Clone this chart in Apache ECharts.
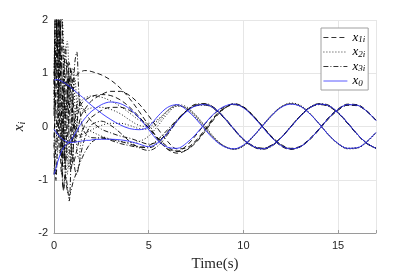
<!DOCTYPE html>
<html><head><meta charset="utf-8">
<script src="https://cdn.jsdelivr.net/npm/echarts@6/dist/echarts.min.js"></script>
<style>html,body{margin:0;padding:0;background:#fff}#c{width:415px;height:277px}</style>
</head><body><div id="c"></div>
<script>
// time grid (s)
const time = [0,0.1,0.2,0.3,0.4,0.5,0.6,0.7,0.8,0.9,1.0,1.1,1.2,1.3,1.4,1.5,1.6,1.7,1.8,1.9,2.0,
  2.5,3,3.5,4,4.5,5,5.5,6,6.5,7,7.5,8,8.5,9,9.5,10,10.5,11,11.5,12,12.5,13,13.5,14,14.5,15,15.5,16,16.5,17];

// leader x0 (three components)
const x0a = [0.87,0.88,0.88,0.87,0.85,0.83,0.81,0.78,0.76,0.73,0.70,0.67,0.64,0.61,0.58,0.55,0.52,0.48,0.45,0.42,0.39,
  0.25,0.13,0.03,-0.04,-0.06,0.00,0.20,0.36,0.41,0.31,0.14,-0.07,-0.26,-0.38,-0.42,-0.35,-0.19,0.01,0.21,0.36,0.42,0.38,0.24,0.05,-0.16,-0.32,-0.41,-0.40,-0.29,-0.11];
const x0b = [-0.90,-0.78,-0.66,-0.55,-0.46,-0.40,-0.35,-0.32,-0.30,-0.26,-0.20,-0.14,-0.08,-0.02,0.04,0.09,0.14,0.18,0.22,0.26,0.29,
  0.41,0.46,0.43,0.33,0.16,-0.06,-0.27,-0.39,-0.41,-0.31,-0.14,0.07,0.26,0.38,0.42,0.35,0.19,-0.01,-0.21,-0.36,-0.42,-0.38,-0.24,-0.05,0.16,0.32,0.41,0.40,0.29,0.11];
const x0c = [-0.05,-0.10,-0.15,-0.19,-0.22,-0.25,-0.27,-0.29,-0.30,-0.30,-0.30,-0.29,-0.29,-0.28,-0.28,-0.27,-0.27,-0.26,-0.26,-0.26,-0.25,
  -0.24,-0.24,-0.25,-0.28,-0.33,-0.38,-0.30,-0.12,0.10,0.28,0.39,0.41,0.33,0.16,-0.05,-0.24,-0.37,-0.42,-0.36,-0.21,-0.01,0.19,0.35,0.42,0.39,0.26,0.07,-0.14,-0.31,-0.41];

// followers, dashed (x1i)
const x11 = [0.30,1.40,2.40,1.60,0.20,-0.60,0.10,0.90,0.80,0.82,0.88,0.93,0.97,1.00,1.02,1.04,1.05,1.05,1.05,1.04,1.03,
  0.97,0.87,0.72,0.52,0.28,0.02,-0.24,-0.42,-0.46,-0.36,-0.16,0.06,0.25,0.37,0.42,0.36,0.20,0.00,-0.20,-0.35,-0.42,-0.38,-0.24,-0.05,0.16,0.32,0.41,0.40,0.29,0.12];
const x12 = [-0.20,0.60,1.70,2.30,1.20,0.00,-0.70,-0.30,0.70,1.10,0.60,0.00,-0.20,0.00,0.18,0.25,0.31,0.36,0.41,0.45,0.49,
  0.60,0.66,0.66,0.58,0.42,0.20,-0.05,-0.28,-0.42,-0.40,-0.26,-0.04,0.20,0.35,0.42,0.36,0.20,0.01,-0.20,-0.36,-0.42,-0.38,-0.25,-0.06,0.15,0.31,0.40,0.39,0.29,0.12];
const x13 = [0.80,2.20,1.30,0.00,-0.90,-0.20,0.80,1.20,0.50,-0.30,-0.70,-0.60,-0.45,-0.30,-0.18,-0.08,0.00,0.06,0.11,0.15,0.18,
  0.30,0.36,0.36,0.30,0.16,-0.02,-0.22,-0.38,-0.47,-0.44,-0.30,-0.08,0.16,0.34,0.43,0.37,0.21,0.00,-0.21,-0.37,-0.43,-0.38,-0.24,-0.04,0.17,0.33,0.42,0.41,0.30,0.12];
const x14 = [-0.50,-1.00,0.20,1.50,2.10,1.00,0.20,0.60,1.20,0.90,0.20,-0.30,0.00,0.30,0.40,0.45,0.48,0.51,0.53,0.55,0.57,
  0.60,0.58,0.50,0.36,0.18,-0.03,-0.25,-0.43,-0.50,-0.44,-0.28,-0.06,0.18,0.34,0.41,0.36,0.21,0.00,-0.19,-0.34,-0.41,-0.37,-0.23,-0.05,0.15,0.31,0.40,0.40,0.29,0.11];

// dotted (x2i)
const x21 = [0.50,1.80,2.50,1.20,-0.20,-0.80,-0.20,0.60,1.00,0.60,0.10,-0.30,0.10,0.60,0.45,0.30,0.28,0.31,0.33,0.34,0.35,
  0.36,0.32,0.24,0.12,0.02,0.00,0.12,0.30,0.40,0.34,0.18,-0.04,-0.24,-0.37,-0.42,-0.36,-0.20,0.00,0.20,0.36,0.43,0.39,0.25,0.05,-0.16,-0.33,-0.42,-0.41,-0.30,-0.12];
const x22 = [-0.30,-0.90,-0.40,0.80,2.20,1.60,0.30,-0.50,-0.80,-0.20,0.60,0.90,0.40,-0.10,-0.20,-0.05,0.02,-0.02,-0.05,-0.08,-0.10,
  -0.18,-0.24,-0.28,-0.30,-0.28,-0.18,0.02,0.24,0.38,0.35,0.20,-0.02,-0.23,-0.37,-0.43,-0.36,-0.19,0.01,0.21,0.37,0.43,0.38,0.24,0.05,-0.16,-0.32,-0.41,-0.40,-0.29,-0.11];
const x23 = [1.00,2.30,1.50,0.20,-0.50,0.30,1.30,1.60,0.90,0.20,0.00,0.15,0.28,0.38,0.45,0.50,0.53,0.55,0.56,0.57,0.57,
  0.55,0.48,0.38,0.25,0.12,0.06,0.14,0.30,0.41,0.37,0.21,0.00,-0.22,-0.37,-0.43,-0.37,-0.20,0.01,0.22,0.37,0.44,0.40,0.25,0.05,-0.15,-0.32,-0.41,-0.40,-0.29,-0.11];
const x24 = [-0.80,-0.40,0.50,1.60,2.30,1.10,-0.60,-0.90,0.20,1.00,1.10,0.40,-0.40,-0.60,-0.35,-0.15,-0.14,-0.12,-0.10,-0.08,-0.06,
  0.02,0.06,0.06,0.02,-0.04,-0.05,0.08,0.28,0.39,0.33,0.16,-0.05,-0.25,-0.38,-0.42,-0.35,-0.19,0.02,0.22,0.37,0.42,0.38,0.24,0.05,-0.16,-0.32,-0.41,-0.40,-0.29,-0.11];

// dash-dot (x3i)
const x31 = [0.20,1.50,2.20,0.80,-0.60,-1.20,-0.90,-1.10,-1.40,-0.60,0.50,1.20,1.40,0.70,0.20,0.00,-0.10,-0.15,-0.18,-0.20,-0.21,
  -0.22,-0.24,-0.28,-0.33,-0.38,-0.40,-0.31,-0.12,0.11,0.29,0.40,0.42,0.34,0.17,-0.04,-0.24,-0.37,-0.42,-0.36,-0.21,-0.01,0.19,0.35,0.42,0.39,0.26,0.07,-0.14,-0.31,-0.41];
const x32 = [-0.40,0.70,2.10,1.80,0.20,-1.20,-0.80,0.30,0.90,0.40,-0.40,-0.80,-0.90,-0.75,-0.55,-0.38,-0.25,-0.14,-0.06,0.00,0.04,
  0.10,0.02,-0.12,-0.28,-0.40,-0.45,-0.36,-0.15,0.10,0.30,0.42,0.43,0.34,0.16,-0.05,-0.25,-0.38,-0.43,-0.37,-0.21,0.00,0.20,0.36,0.43,0.40,0.26,0.07,-0.14,-0.31,-0.41];
const x33 = [0.60,2.40,1.00,-0.50,-0.30,0.60,1.50,0.80,-0.20,-0.80,-0.50,0.10,0.40,0.50,0.45,0.38,0.30,0.24,0.18,0.13,0.09,
  -0.05,-0.12,-0.18,-0.22,-0.28,-0.33,-0.28,-0.10,0.12,0.30,0.40,0.41,0.32,0.15,-0.06,-0.25,-0.37,-0.41,-0.35,-0.20,0.00,0.20,0.36,0.42,0.38,0.25,0.06,-0.15,-0.32,-0.41];
const x34 = [-0.90,-0.30,0.90,2.00,1.20,0.00,-0.90,-1.20,-1.30,-1.20,-1.05,-0.95,-0.85,-0.75,-0.66,-0.58,-0.50,-0.44,-0.38,-0.33,-0.29,
  -0.20,-0.26,-0.32,-0.36,-0.39,-0.36,-0.24,-0.06,0.13,0.29,0.39,0.40,0.32,0.15,-0.05,-0.24,-0.36,-0.41,-0.35,-0.21,-0.01,0.19,0.35,0.41,0.38,0.25,0.06,-0.14,-0.31,-0.41];

const xTicks = [0,5,10,15];
const yTicks = [-2,-1,0,1,2];

const pair = v => time.map((t,i)=>[t,v[i]]);
const DASH=[5,3], DOT=[1,2], DASHDOT=[5,2,1,2];
function mk(name, v, type, color, w){
  return {name, type:'line', data: pair(v), symbol:'none', showSymbol:false, smooth:0.35, clip:true,
    lineStyle:{color, width:w, type}, itemStyle:{color}, animation:false, silent:true};
}
const series = [];
[x11,x12,x13,x14].forEach(v=>series.push(mk('x1i',v,DASH,'#000',0.9)));
[x21,x22,x23,x24].forEach(v=>series.push(mk('x2i',v,DOT,'#000',0.9)));
[x31,x32,x33,x34].forEach(v=>series.push(mk('x3i',v,DASHDOT,'#000',0.9)));
[x0a,x0b,x0c].forEach(v=>series.push(mk('x0',v,'solid','#3030ff',0.9)));

const serif = 'Liberation Serif';
const legRich = {
  x:{fontFamily:serif, fontStyle:'italic', fontSize:13, color:'#000', lineHeight:14},
  s:{fontFamily:serif, fontStyle:'italic', fontSize:9, color:'#000', lineHeight:10, padding:[4,0,0,0], verticalAlign:'bottom'}
};
const legSub = {x1i:'1i', x2i:'2i', x3i:'3i', x0:'0'};

const chart = echarts.init(document.getElementById('c'), null, {renderer:'canvas'});
chart.setOption({
  animation:false,
  grid:{left:54, top:20, width:322, height:217, containLabel:false},
  xAxis:{type:'value', min:0, max:17, interval:5,
    name:'Time(s)', nameLocation:'middle', nameGap:24,
    nameTextStyle:{fontFamily:serif, fontSize:15, color:'#262626'},
    axisLine:{show:true, onZero:false, lineStyle:{color:'#9a9a9a', width:1}},
    axisTick:{show:true, inside:true, length:3, lineStyle:{color:'#9a9a9a'}},
    axisLabel:{color:'#262626', fontSize:11, fontFamily:'Liberation Sans', margin:7,
      formatter: v => xTicks.includes(v) ? String(v) : ''},
    splitLine:{show:true, lineStyle:{color:'#e6e6e6', width:1}}},
  yAxis:{type:'value', min:-2, max:2, interval:1,
    name:'{x|x}{s|i}', nameLocation:'middle', nameGap:19, nameRotate:90,
    nameTextStyle:{rich:{
      x:{fontFamily:serif, fontStyle:'italic', fontSize:15, color:'#262626'},
      s:{fontFamily:serif, fontStyle:'italic', fontSize:10, color:'#262626', padding:[6,0,0,0]}}},
    axisLine:{show:true, onZero:false, lineStyle:{color:'#9a9a9a', width:1}},
    axisTick:{show:true, inside:true, length:3, lineStyle:{color:'#9a9a9a'}},
    axisLabel:{color:'#262626', fontSize:11, fontFamily:'Liberation Sans', margin:6,
      formatter: v => yTicks.includes(v) ? String(v) : ''},
    splitLine:{show:true, lineStyle:{color:'#e6e6e6', width:1}}},
  legend:{data:['x1i','x2i','x3i','x0'], orient:'vertical', left:321, top:28,
    padding:[3,3,2,2], itemGap:1, itemWidth:24, itemHeight:11,
    itemStyle:{opacity:0}, lineStyle:{width:0.8},
    backgroundColor:'#fff', borderColor:'#a0a0a0', borderWidth:1, borderRadius:0,
    formatter: n => '{x|x}{s|' + legSub[n] + '}',
    textStyle:{rich:legRich}, selectedMode:false},
  series
});
</script></body></html>
